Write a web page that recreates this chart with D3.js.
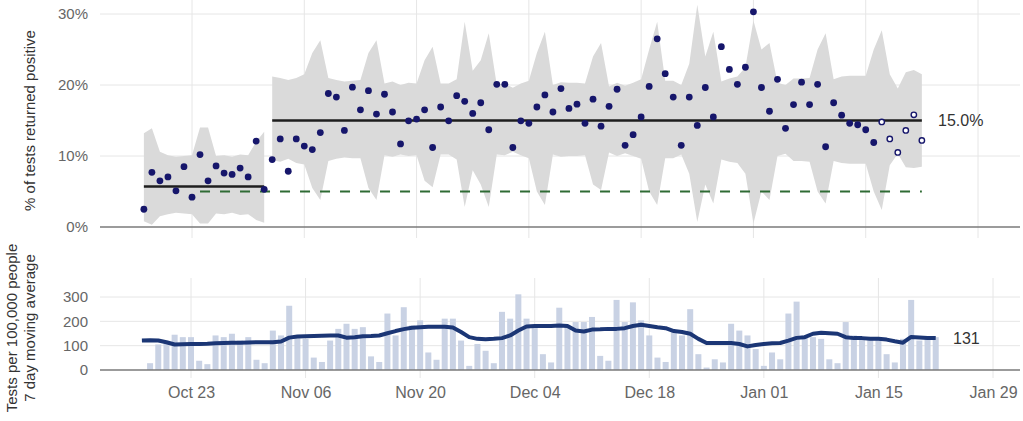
<!DOCTYPE html>
<html>
<head>
<meta charset="utf-8">
<script src="https://cdn.jsdelivr.net/npm/d3@7"></script>
<style>
  body { margin: 0; background: #fff; }
  svg { display: block; font-family: "Liberation Sans", Arial, sans-serif; }
  .grid line { stroke: #e6e6e6; stroke-width: 1; }
  .tick text { fill: #666; }
</style>
</head>
<body>
<div id="chart"></div>
<script>
// daily series, first day 2020-10-17, one value per day
var firstDay = '2020-10-17';

// % of tests returned positive
var positivity = [
	2.5, 7.7, 6.5, 7.05, 5.1, 8.5, 4.2, 10.2, 6.5, 8.6, 7.6, 7.4, 8.3, 7.05, 12.1, 5.3,
	9.5, 12.4, 7.85, 12.4, 11.4, 10.9, 13.3, 18.8, 18.3, 13.6, 19.7, 16.5, 19.2, 15.9, 18.7, 16.2, 11.7,
	14.95, 15.2, 16.5, 11.2, 16.9, 14.95, 18.5, 17.7, 16.0, 17.5, 13.7, 20.1, 20.1, 11.2, 14.95, 14.6,
	16.9, 18.6, 16.2, 19.5, 16.7, 17.3, 14.6, 18.0, 14.2, 17.0, 19.4, 11.5, 13.0, 15.5, 19.8, 26.5, 21.6, 18.3,
	11.5, 18.3, 14.3, 19.65, 15.5, 25.4, 22.2, 20.1, 22.5, 30.3, 19.65, 16.3, 20.8, 13.9, 17.25, 20.4,
	17.25, 20.1, 11.3, 17.5, 15.75, 14.6, 14.4, 13.7, 11.9, 14.8, 12.4, 10.5, 13.6, 15.8, 12.2
];
// last days are provisional (drawn hollow)
var provisionalDays = 6;

// control limits
var upperLimit = [
	13.2, 13.9, 10.6, 10.1, 9.9, 10.0, 10.1, 14.0, 14.0, 10.0, 10.1, 9.9, 10.2, 10.1, 12.0, 13.4,
	21.2, 21.0, 20.7, 21.0, 21.5, 24.5, 26.3, 21.0, 20.7, 20.5, 20.6, 20.7, 24.5, 26.3, 20.2, 20.5, 20.0,
	20.3, 20.2, 23.5, 25.4, 20.2, 20.2, 20.8, 28.9, 22.0, 23.5, 27.3, 20.0, 20.2, 19.6, 20.2, 20.6,
	24.5, 27.5, 20.0, 20.4, 20.3, 20.3, 20.2, 24.0, 25.9, 19.8, 20.3, 19.9, 20.3, 20.8, 25.0, 28.9, 20.6, 20.6,
	20.0, 23.0, 31.3, 24.0, 27.5, 20.5, 20.9, 21.2, 22.5, 29.1, 25.0, 25.9, 20.3, 20.0, 20.9, 20.9,
	21.0, 25.0, 27.3, 20.8, 21.2, 21.3, 21.3, 21.3, 25.0, 27.7, 21.5, 19.5, 21.8, 22.1, 21.5
];
var lowerLimit = [
	0.8, 0.3, 1.5, 1.8, 2.0, 1.9, 1.8, 0.5, 0.5, 1.9, 1.8, 2.0, 1.7, 1.8, 1.0, 0.6,
	9.4, 9.2, 9.6, 9.0, 8.8, 5.5, 3.8, 9.3, 9.6, 9.8, 9.7, 9.7, 5.5, 3.8, 10.1, 9.9, 10.2,
	10.0, 10.1, 6.5, 5.6, 10.2, 10.2, 9.5, 2.8, 8.0, 6.0, 2.8, 10.2, 10.1, 10.6, 10.1, 9.7,
	5.0, 3.1, 10.2, 9.9, 10.0, 10.0, 10.1, 6.0, 5.2, 10.5, 10.0, 10.4, 10.0, 9.6, 5.0, 3.1, 9.7, 9.7,
	10.2, 7.5, 0.7, 6.0, 3.3, 9.5, 9.2, 9.0, 7.5, 0.5, 5.0, 3.8, 10.0, 10.3, 9.3, 9.3,
	9.2, 5.0, 3.3, 9.3, 9.0, 8.9, 8.9, 8.9, 5.0, 2.4, 8.7, 10.3, 8.4, 8.3, 8.5
];

// periods with their mean positivity
var periodStart = ['2020-10-17', '2020-11-02'];
var periodEnd = ['2020-11-01', '2021-01-22'];
var periodMean = [5.7, 15.0];

// 5% target
var targetValue = 5;
var targetStart = '2020-10-24';
var targetEnd = '2021-01-22';

// tests per 100,000 people (daily) and 7 day moving average
var testsDaily = [
	null, 28, 105, 120, 145, 135, 135, 38, 24, 142, 135, 149, 121, 135, 42, 28,
	162, 142, 264, 135, 128, 51, 33, 121, 169, 190, 169, 176, 56, 33, 232, 142, 258,
	183, 204, 72, 42, 211, 211, 121, 17, 107, 79, 28, 239, 211, 311, 211, 176,
	65, 31, 256, 183, 197, 197, 218, 58, 38, 288, 197, 278, 204, 142, 51, 33, 156, 142,
	250, 65, 10, 44, 31, 190, 162, 142, 86, 17, 72, 44, 232, 281, 142, 135,
	128, 44, 28, 197, 142, 128, 128, 128, 65, 31, 128, 288, 121, 128, 135
];
var testsAvg = [
	121, 122, 121, 114, 105, 106, 107, 107, 108, 110, 111, 112, 112, 113, 114, 114,
	114, 117, 133, 138, 139, 140, 141, 142, 142, 133, 135, 139, 140, 142, 151, 160, 168,
	174, 176, 178, 178, 178, 175, 156, 135, 128, 126, 128, 131, 142, 162, 179, 181,
	181, 181, 183, 181, 162, 158, 166, 167, 169, 169, 172, 181, 186, 181, 176, 172, 160, 156,
	149, 128, 111, 111, 111, 111, 107, 97, 103, 107, 110, 111, 121, 132, 135, 149,
	153, 151, 149, 135, 131, 131, 128, 128, 125, 118, 112, 136, 134, 132, 131
];

// x axis ticks
var tickDates = ['2020-10-23', '2020-11-06', '2020-11-20', '2020-12-04', '2020-12-18', '2021-01-01', '2021-01-15', '2021-01-29'];

var parse = d3.timeParse('%Y-%m-%d');
var days = positivity.map(function(d, i) { return d3.timeDay.offset(parse(firstDay), i); });
var ticks = tickDates.map(parse);

var width = 1023, height = 421;
var left = 100, right = 1020;

var svg = d3.select('#chart').append('svg')
	.attr('width', width)
	.attr('height', height);

// ---------- top panel: positivity ----------
var xTop = d3.scaleTime().domain([ticks[0], ticks[ticks.length - 1]]).range([192, 978]);
var yTop = d3.scaleLinear().domain([0, 30]).range([227, 14]);

var topPanel = svg.append('g');

topPanel.append('g').attr('class', 'grid')
	.selectAll('line').data(ticks).enter().append('line')
	.attr('x1', function(d) { return xTop(d); })
	.attr('x2', function(d) { return xTop(d); })
	.attr('y1', 0).attr('y2', 238);

topPanel.append('g').attr('class', 'grid')
	.selectAll('line').data([10, 20, 30]).enter().append('line')
	.attr('x1', left).attr('x2', right)
	.attr('y1', function(d) { return yTop(d); })
	.attr('y2', function(d) { return yTop(d); });

// control band, one area per period
var band = d3.area()
	.x(function(d) { return xTop(d.date); })
	.y0(function(d) { return yTop(d.lo); })
	.y1(function(d) { return yTop(d.hi); });

periodStart.forEach(function(s, p) {
	var a = parse(s), b = parse(periodEnd[p]);
	var rows = [];
	days.forEach(function(d, i) {
		if (d >= a && d <= b) rows.push({ date: d, lo: lowerLimit[i], hi: upperLimit[i] });
	});
	topPanel.append('path')
		.attr('d', band(rows))
		.attr('fill', '#dadada');
});

// zero line
topPanel.append('line')
	.attr('x1', left).attr('x2', right)
	.attr('y1', yTop(0)).attr('y2', yTop(0))
	.attr('stroke', '#7a7a7a').attr('stroke-width', 1.6);

// target
topPanel.append('line')
	.attr('x1', xTop(parse(targetStart))).attr('x2', xTop(parse(targetEnd)))
	.attr('y1', yTop(targetValue)).attr('y2', yTop(targetValue))
	.attr('stroke', '#2f6b34').attr('stroke-width', 2)
	.attr('stroke-dasharray', '10,10');

// period means
periodStart.forEach(function(s, p) {
	topPanel.append('line')
		.attr('x1', xTop(parse(s))).attr('x2', xTop(parse(periodEnd[p])))
		.attr('y1', yTop(periodMean[p])).attr('y2', yTop(periodMean[p]))
		.attr('stroke', '#1e1e1e').attr('stroke-width', 2.5);
});

// points
var nFinal = positivity.length - provisionalDays;
topPanel.append('g').selectAll('circle')
	.data(positivity).enter().append('circle')
	.attr('cx', function(d, i) { return xTop(days[i]); })
	.attr('cy', function(d) { return yTop(d); })
	.attr('r', function(d, i) { return i >= nFinal ? 2.7 : 3.4; })
	.attr('fill', function(d, i) { return i >= nFinal ? '#fff' : '#16166b'; })
	.attr('stroke', '#16166b')
	.attr('stroke-width', function(d, i) { return i >= nFinal ? 1.4 : 0; });

topPanel.append('g')
	.attr('transform', 'translate(' + left + ',0)')
	.call(d3.axisLeft(yTop).tickValues([0, 10, 20, 30]).tickFormat(function(d) { return d + '%'; }).tickSize(0).tickPadding(12))
	.call(function(g) { g.select('.domain').remove(); })
	.selectAll('text').style('font-size', '15px');

topPanel.append('text')
	.attr('transform', 'translate(30,' + yTop(15) + ') rotate(-90)')
	.attr('text-anchor', 'middle')
	.attr('dy', '0.35em')
	.style('font-size', '15px')
	.attr('fill', '#333')
	.text('% of tests returned positive');

topPanel.append('text')
	.attr('x', 938)
	.attr('y', yTop(periodMean[periodMean.length - 1]))
	.attr('dy', '0.35em')
	.style('font-size', '16px')
	.attr('fill', '#333')
	.text(d3.format('.1f')(periodMean[periodMean.length - 1]) + '%');

// ---------- bottom panel: tests ----------
var xBot = d3.scaleTime().domain([ticks[0], ticks[ticks.length - 1]]).range([191, 993]);
var yBot = d3.scaleLinear().domain([0, 300]).range([370, 297]);

var botPanel = svg.append('g');

botPanel.append('g').attr('class', 'grid')
	.selectAll('line').data(ticks).enter().append('line')
	.attr('x1', function(d) { return xBot(d); })
	.attr('x2', function(d) { return xBot(d); })
	.attr('y1', 278).attr('y2', 378);

botPanel.append('g').attr('class', 'grid')
	.selectAll('line').data([100, 200, 300]).enter().append('line')
	.attr('x1', left).attr('x2', right)
	.attr('y1', function(d) { return yBot(d); })
	.attr('y2', function(d) { return yBot(d); });

var barW = 6;
botPanel.append('g').selectAll('rect')
	.data(testsDaily.map(function(v, i) { return { date: days[i], v: v }; }).filter(function(d) { return d.v != null; }))
	.enter().append('rect')
	.attr('x', function(d) { return xBot(d.date) - barW / 2; })
	.attr('width', barW)
	.attr('y', function(d) { return yBot(d.v); })
	.attr('height', function(d) { return yBot(0) - yBot(d.v); })
	.attr('fill', '#c9d2e4');

botPanel.append('line')
	.attr('x1', left).attr('x2', right)
	.attr('y1', yBot(0)).attr('y2', yBot(0))
	.attr('stroke', '#7a7a7a').attr('stroke-width', 1.6);

var avgLine = d3.line()
	.x(function(d, i) { return xBot(days[i]); })
	.y(function(d) { return yBot(d); });

botPanel.append('path')
	.attr('d', avgLine(testsAvg))
	.attr('fill', 'none')
	.attr('stroke', '#1b3675')
	.attr('stroke-width', 4)
	.attr('stroke-linejoin', 'round');

botPanel.append('g')
	.attr('transform', 'translate(' + left + ',0)')
	.call(d3.axisLeft(yBot).tickValues([0, 100, 200, 300]).tickSize(0).tickPadding(12))
	.call(function(g) { g.select('.domain').remove(); })
	.selectAll('text').style('font-size', '15px');

botPanel.append('g')
	.attr('transform', 'translate(0,378)')
	.call(d3.axisBottom(xBot).tickValues(ticks).tickFormat(d3.timeFormat('%b %d')).tickSize(0).tickPadding(9))
	.call(function(g) { g.select('.domain').remove(); })
	.selectAll('text').style('font-size', '16px');

var yTitle = botPanel.append('text')
	.attr('transform', 'translate(21,328) rotate(-90)')
	.attr('text-anchor', 'middle')
	.style('font-size', '15px')
	.attr('fill', '#333');
yTitle.append('tspan').attr('x', 0).attr('dy', '-0.25em').text('Tests per 100,000 people');
yTitle.append('tspan').attr('x', 0).attr('dy', '1.2em').text('7 day moving average');

botPanel.append('text')
	.attr('x', 953)
	.attr('y', yBot(testsAvg[testsAvg.length - 1]))
	.attr('dy', '0.35em')
	.style('font-size', '16px')
	.attr('fill', '#333')
	.text(testsAvg[testsAvg.length - 1]);
</script>
</body>
</html>
